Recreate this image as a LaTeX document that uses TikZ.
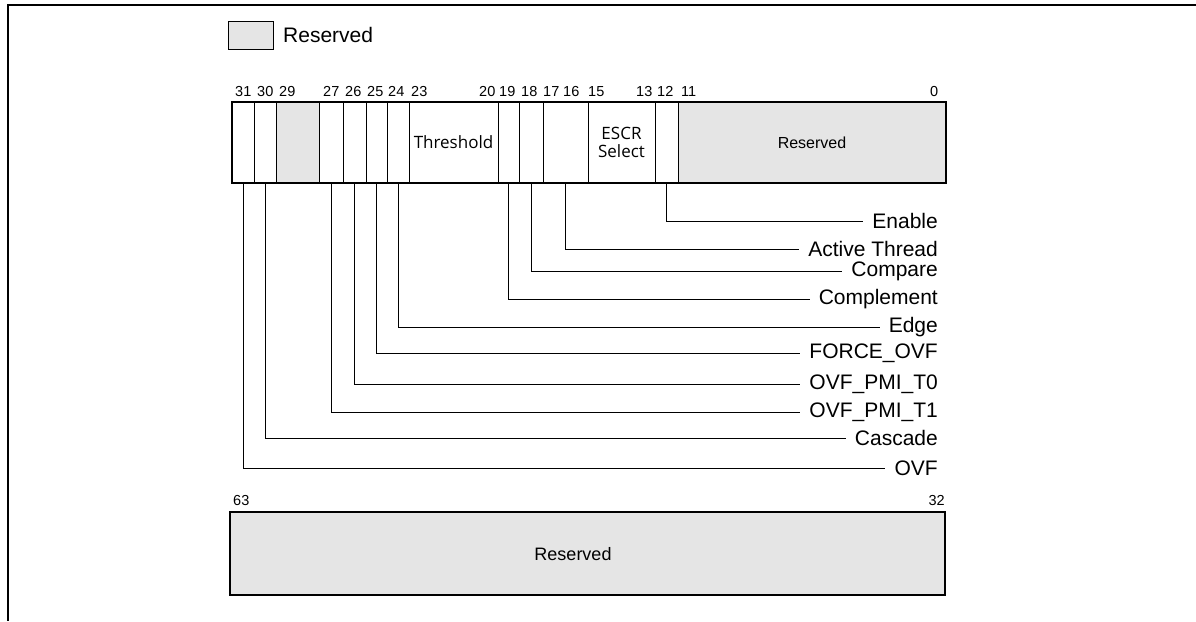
\documentclass[tikz,border=0pt]{standalone}
\usepackage{fontspec}
\setmainfont{Liberation Sans}
\newfontfamily\clearfont{Open Sans}
\usepackage{tikz}
\usetikzlibrary{positioning}
\definecolor{resgray}{HTML}{E5E5E5}

\begin{document}
\begin{tikzpicture}[x=1pt, y=-1pt,
    field/.style = {draw, line width=1pt, minimum height=81pt, inner sep=0pt, outer sep=0pt, anchor=north west},
    resfield/.style = {field, fill=resgray},
    bitno/.style = {font=\fontsize{14.5}{14.5}\selectfont, inner sep=0pt, anchor=base west},
    flabel/.style = {font=\fontsize{21}{21}\selectfont, inner xsep=9pt, inner ysep=0pt, anchor=east},
    conn/.style = {line width=1pt}]
    \useasboundingbox (0,0) rectangle (1196,621);
    \draw[line width=2.5pt] (1196,5) -- (8,5) -- (8,621);
    \node[resfield, minimum width=45pt, minimum height=28pt] (key) at (228,21) {};
    \node[font=\fontsize{21}{21}\selectfont, inner xsep=4pt, right=6pt of key] (keytext) {Reserved};
    \node[field, minimum width=22pt] (b31) at (232,102) {};
    \node[field, minimum width=22pt] (b30) at (b31.north east) {};
    \node[resfield, minimum width=43pt] (b29) at (b30.north east) {};
    \node[field, minimum width=24pt] (b27) at (b29.north east) {};
    \node[field, minimum width=23pt] (b26) at (b27.north east) {};
    \node[field, minimum width=21pt] (b25) at (b26.north east) {};
    \node[field, minimum width=22pt] (b24) at (b25.north east) {};
    \node[field, minimum width=89pt, font=\clearfont\fontsize{17}{18}\selectfont] (b23) at (b24.north east) {Threshold};
    \node[field, minimum width=21pt] (b19) at (b23.north east) {};
    \node[field, minimum width=24pt] (b18) at (b19.north east) {};
    \node[field, minimum width=45pt] (b17) at (b18.north east) {};
    \node[field, minimum width=67pt, align=center, font=\clearfont\fontsize{17}{18.5}\selectfont] (b15) at (b17.north east) {ESCR\\Select};
    \node[field, minimum width=23pt] (b12) at (b15.north east) {};
    \node[resfield, minimum width=268pt, font=\fontsize{16}{16}\selectfont] (b11) at (b12.north east) {Reserved};
    \draw[line width=2pt] (b31.north west) rectangle (b11.south east);
    \node[bitno] (n31) at (235,96) {31};
    \node[bitno] (n30) at (257,96) {30};
    \node[bitno] (n29) at (279,96) {29};
    \node[bitno] (n27) at (323,96) {27};
    \node[bitno] (n26) at (345,96) {26};
    \node[bitno] (n25) at (367,96) {25};
    \node[bitno] (n24) at (388,96) {24};
    \node[bitno] (n23) at (411,96) {23};
    \node[bitno] (n20) at (479,96) {20};
    \node[bitno] (n19) at (499,96) {19};
    \node[bitno] (n18) at (521,96) {18};
    \node[bitno] (n17) at (543,96) {17};
    \node[bitno] (n16) at (563,96) {16};
    \node[bitno] (n15) at (588,96) {15};
    \node[bitno] (n13) at (636,96) {13};
    \node[bitno] (n12) at (657,96) {12};
    \node[bitno] (n11) at (681,96) {11};
    \node[bitno] (n0) at (930,96) {0};
    \node[flabel] (enable) at (947,221) {Enable};
    \node[flabel] (active) at (947,249) {Active Thread};
    \node[flabel] (compare) at (947,271) {Compare};
    \node[flabel] (complement) at (947,299) {Complement};
    \node[flabel] (edge) at (947,327) {Edge};
    \node[flabel] (forceovf) at (947,353) {FORCE\_OVF};
    \node[flabel] (pmitzero) at (947,384) {OVF\_PMI\_T0};
    \node[flabel] (pmitone) at (947,412) {OVF\_PMI\_T1};
    \node[flabel] (cascade) at (947,438) {Cascade};
    \node[flabel] (ovf) at (947,468) {OVF};
    \draw[conn] (b12.south) |- (enable);
    \draw[conn] (b17.south) |- (active);
    \draw[conn] (b18.south) |- (compare);
    \draw[conn] (b19.south) |- (complement);
    \draw[conn] (b24.south) |- (edge);
    \draw[conn] (b25.south) |- (forceovf);
    \draw[conn] (b26.south) |- (pmitzero);
    \draw[conn] (b27.south) |- (pmitone);
    \draw[conn] (b30.south) |- (cascade);
    \draw[conn] (b31.south) |- (ovf);
    \node[resfield, line width=2pt, minimum width=715pt, minimum height=83pt] (hi) at (230,512) {};
    \node[font=\fontsize{18}{18}\selectfont] (hitext) at (573,554) {Reserved};
    \node[bitno] (n63) at (233,505) {63};
    \node[bitno, anchor=base east] (n32) at (945,505) {32};
\end{tikzpicture}
\end{document}
